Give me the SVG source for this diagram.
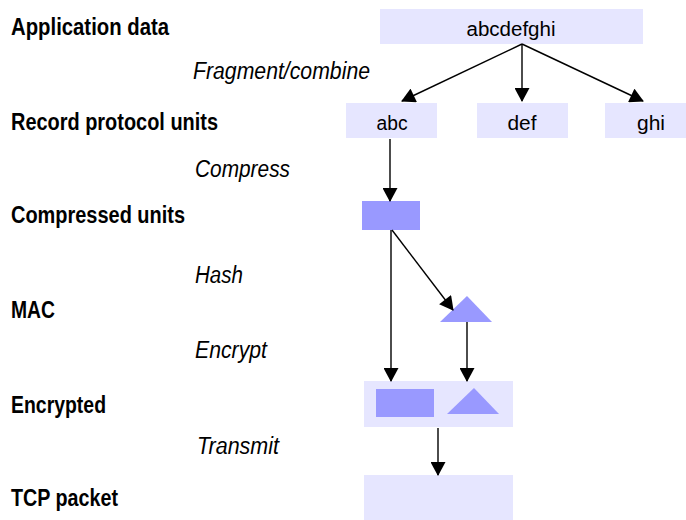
<svg xmlns="http://www.w3.org/2000/svg" width="686" height="520" viewBox="0 0 686 520">
<style>
.lbl{font-family:"Liberation Sans",Arial,sans-serif;font-weight:bold;font-size:23.5px;fill:#000}
.op{font-family:"Liberation Sans",Arial,sans-serif;font-style:italic;font-size:23px;fill:#000}
.nt{font-family:"Liberation Sans",Arial,sans-serif;font-size:20px;fill:#000;text-anchor:middle}
.light{fill:#E6E6FF}
.dark{fill:#9999FF}
.edge{stroke:#000;stroke-width:1.4;fill:none;marker-end:url(#ah)}
</style>
<defs>
<marker id="ah" markerUnits="userSpaceOnUse" markerWidth="15" markerHeight="15" viewBox="0 0 14 15" refX="13" refY="7.5" orient="auto">
<path d="M0,0 L14,7.5 L0,15 z" fill="#000"/>
</marker>
</defs>
<rect width="686" height="520" fill="#fff"/>
<g id="labels">
<text class="lbl" x="11" y="35" textLength="158" lengthAdjust="spacingAndGlyphs">Application data</text>
<text class="lbl" x="11" y="130" textLength="207" lengthAdjust="spacingAndGlyphs">Record protocol units</text>
<text class="lbl" x="11" y="223" textLength="174" lengthAdjust="spacingAndGlyphs">Compressed units</text>
<text class="lbl" x="11" y="318" textLength="44" lengthAdjust="spacingAndGlyphs">MAC</text>
<text class="lbl" x="11" y="413" textLength="95" lengthAdjust="spacingAndGlyphs">Encrypted</text>
<text class="lbl" x="11" y="506" textLength="107" lengthAdjust="spacingAndGlyphs">TCP packet</text>
<text class="op" x="193" y="79" textLength="177" lengthAdjust="spacingAndGlyphs">Fragment/combine</text>
<text class="op" x="195" y="177" textLength="95" lengthAdjust="spacingAndGlyphs">Compress</text>
<text class="op" x="195" y="283" textLength="48" lengthAdjust="spacingAndGlyphs">Hash</text>
<text class="op" x="195" y="358" textLength="72" lengthAdjust="spacingAndGlyphs">Encrypt</text>
<text class="op" x="197" y="454" textLength="82" lengthAdjust="spacingAndGlyphs">Transmit</text>
</g>
<g id="app-data">
<rect class="light" x="380" y="9" width="263" height="35"/>
<text class="nt" x="511" y="36" textLength="89" lengthAdjust="spacingAndGlyphs">abcdefghi</text>
</g>
<g id="rec-abc">
<rect class="light" x="346" y="103" width="91" height="35"/>
<text class="nt" x="392" y="130" textLength="31" lengthAdjust="spacingAndGlyphs">abc</text>
</g>
<g id="rec-def">
<rect class="light" x="477" y="103" width="91" height="35"/>
<text class="nt" x="522" y="130" textLength="29" lengthAdjust="spacingAndGlyphs">def</text>
</g>
<g id="rec-ghi">
<rect class="light" x="605" y="103" width="81" height="35"/>
<text class="nt" x="651" y="130" textLength="28" lengthAdjust="spacingAndGlyphs">ghi</text>
</g>
<g id="compressed">
<rect class="dark" x="362" y="201" width="58" height="29"/>
</g>
<g id="mac">
<polygon class="dark" points="467,296 492,322 440,322"/>
</g>
<g id="encrypted">
<rect class="light" x="364" y="381" width="149" height="46"/>
<rect class="dark" x="376" y="389" width="58" height="28"/>
<polygon class="dark" points="474,388 499,414 447,414"/>
</g>
<g id="tcp-packet">
<rect class="light" x="364" y="475" width="149" height="45"/>
</g>
<g id="connectors">
<line class="edge" x1="522" y1="44" x2="402" y2="101"/>
<line class="edge" x1="522" y1="44" x2="522" y2="101"/>
<line class="edge" x1="522" y1="44" x2="643" y2="101"/>
<line class="edge" x1="390" y1="139" x2="390" y2="201"/>
<line class="edge" x1="391" y1="230" x2="391" y2="381"/>
<line class="edge" x1="392" y1="230" x2="453" y2="310"/>
<line class="edge" x1="467" y1="322" x2="467" y2="381"/>
<line class="edge" x1="438" y1="428" x2="438" y2="475"/>
</g>
</svg>
